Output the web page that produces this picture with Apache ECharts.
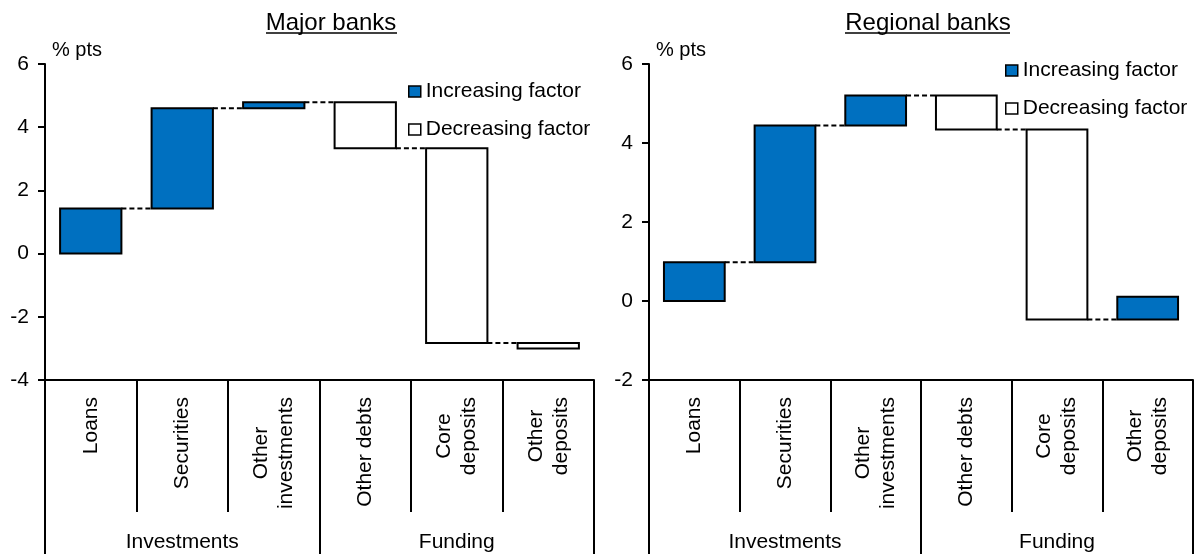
<!DOCTYPE html>
<html>
<head>
<meta charset="utf-8">
<script src="https://cdn.jsdelivr.net/npm/echarts@6/dist/echarts.min.js"></script>
<style>
html,body{margin:0;padding:0;background:#fff;}
#chart{width:1195px;height:554px;}
</style>
</head>
<body>
<div id="chart"></div>
<script>
// ---- data ----
const categories = ['Loans', 'Securities', 'Other\ninvestments', 'Other debts', 'Core\ndeposits', 'Other\ndeposits'];
const groups = ['Investments', 'Funding'];
const majorChanges = [1.43, 3.17, 0.19, -1.46, -6.16, -0.17];
const regionalChanges = [0.98, 3.46, 0.76, -0.86, -4.81, 0.58];
const majorYTicks = [-4, -2, 0, 2, 4, 6];
const regionalYTicks = [-2, 0, 2, 4, 6];
const panelTitles = ['Major banks', 'Regional banks'];
const unitLabel = '% pts';
const seriesNames = ['Increasing factor', 'Decreasing factor'];

const FONT = "'Liberation Sans', Arial, sans-serif";
const BLUE = '#0070C0';
const LW = 2;

function buildWaterfall(changes) {
  const inc = [], dec = [];
  let level = 0;
  changes.forEach((d, i) => {
    const start = level, end = level + d;
    const hasNext = i < changes.length - 1 ? 1 : 0;
    const item = [i, start, end, hasNext];
    (d >= 0 ? inc : dec).push(item);
    level = end;
  });
  return { inc, dec };
}

function renderBar(params, api) {
  const i = api.value(0), s = api.value(1), e = api.value(2), hasNext = api.value(3);
  const bw = api.size([1, 0])[0] * 0.67;
  const p0 = api.coord([i, s]);
  const p1 = api.coord([i, e]);
  const children = [{
    type: 'rect',
    shape: { x: p0[0] - bw / 2, y: Math.min(p0[1], p1[1]), width: bw, height: Math.abs(p0[1] - p1[1]) },
    style: { fill: api.visual('color'), stroke: '#000', lineWidth: LW }
  }];
  if (hasNext) {
    const q = api.coord([i + 1, e]);
    children.push({
      type: 'line',
      shape: { x1: p1[0] + bw / 2, y1: p1[1], x2: q[0] - bw / 2, y2: q[1] },
      style: { stroke: '#000', lineWidth: LW, lineDash: [5, 3] }
    });
  }
  return { type: 'group', children };
}

const grids = [
  { left: 45, top: 64, width: 549, height: 316 },
  { left: 649, top: 64, width: 544, height: 316 }
];

const xAxes = [], yAxes = [], series = [];
[[majorChanges, majorYTicks], [regionalChanges, regionalYTicks]].forEach(([changes, ticks], g) => {
  xAxes.push({
    type: 'category', gridIndex: g, data: categories, position: 'bottom',
    axisLine: { onZero: false, lineStyle: { color: '#000', width: LW } },
    axisTick: { show: true, interval: 0, length: 132, lineStyle: { color: '#000', width: LW } },
    axisLabel: {
      interval: 0, rotate: 90, margin: 17, color: '#000', fontFamily: FONT, fontSize: 21,
      formatter: v => v.split('\n').map(s => '{c|' + s + '}').join('\n'),
      rich: { c: { align: 'center', fontSize: 21, lineHeight: 25, fontFamily: FONT, color: '#000' } }
    }
  });
  xAxes.push({
    type: 'category', gridIndex: g, data: groups, position: 'bottom',
    axisLine: { show: false, onZero: false },
    axisTick: { show: true, interval: 0, length: 180, lineStyle: { color: '#000', width: LW } },
    axisLabel: { interval: 0, margin: 152, color: '#000', fontFamily: FONT, fontSize: 21 }
  });
  yAxes.push({
    type: 'value', gridIndex: g, min: ticks[0], max: ticks[ticks.length - 1], interval: 2,
    name: unitLabel, nameLocation: 'end', nameGap: 4,
    nameTextStyle: { align: 'left', verticalAlign: 'bottom', padding: [0, 0, 0, 7], color: '#000', fontFamily: FONT, fontSize: 20 },
    axisLine: { show: true, lineStyle: { color: '#000', width: LW } },
    axisTick: { show: true, length: 7, lineStyle: { color: '#000', width: LW } },
    axisLabel: { margin: 16, color: '#000', fontFamily: FONT, fontSize: 21 },
    splitLine: { show: false }
  });
  const wf = buildWaterfall(changes);
  series.push({
    type: 'custom', name: seriesNames[0], xAxisIndex: g * 2, yAxisIndex: g,
    renderItem: renderBar, encode: { x: 0, y: [1, 2] }, data: wf.inc,
    itemStyle: { color: BLUE, borderColor: '#000', borderWidth: LW }, clip: false
  });
  series.push({
    type: 'custom', name: seriesNames[1], xAxisIndex: g * 2, yAxisIndex: g,
    renderItem: renderBar, encode: { x: 0, y: [1, 2] }, data: wf.dec,
    itemStyle: { color: '#fff', borderColor: '#000', borderWidth: LW }, clip: false
  });
});

const legendCommon = {
  orient: 'vertical', icon: 'rect', itemWidth: 12, itemHeight: 11, itemGap: 17,
  data: seriesNames,
  textStyle: { color: '#000', fontFamily: FONT, fontSize: 21 },
  itemStyle: { borderColor: '#000', borderWidth: 1.5 }
};

const option = {
  animation: false,
  backgroundColor: '#fff',
  title: [
    { text: panelTitles[0], left: 326, top: 6, textAlign: 'center', textStyle: { color: '#000', fontFamily: FONT, fontSize: 24, fontWeight: 'normal' } },
    { text: panelTitles[1], left: 923, top: 6, textAlign: 'center', textStyle: { color: '#000', fontFamily: FONT, fontSize: 24, fontWeight: 'normal' } }
  ],
  graphic: [
    { type: 'line', shape: { x1: 266, y1: 33, x2: 397, y2: 33 }, style: { stroke: '#000', lineWidth: 1.5 } },
    { type: 'line', shape: { x1: 845, y1: 33, x2: 1010, y2: 33 }, style: { stroke: '#000', lineWidth: 1.5 } }
  ],
  legend: [
    Object.assign({}, legendCommon, { left: 403, top: 76 }),
    Object.assign({}, legendCommon, { left: 1000, top: 55 })
  ],
  grid: grids,
  xAxis: xAxes,
  yAxis: yAxes,
  series: series
};

const chart = echarts.init(document.getElementById('chart'), null, { renderer: 'canvas' });
chart.setOption(option);
</script>
</body>
</html>
